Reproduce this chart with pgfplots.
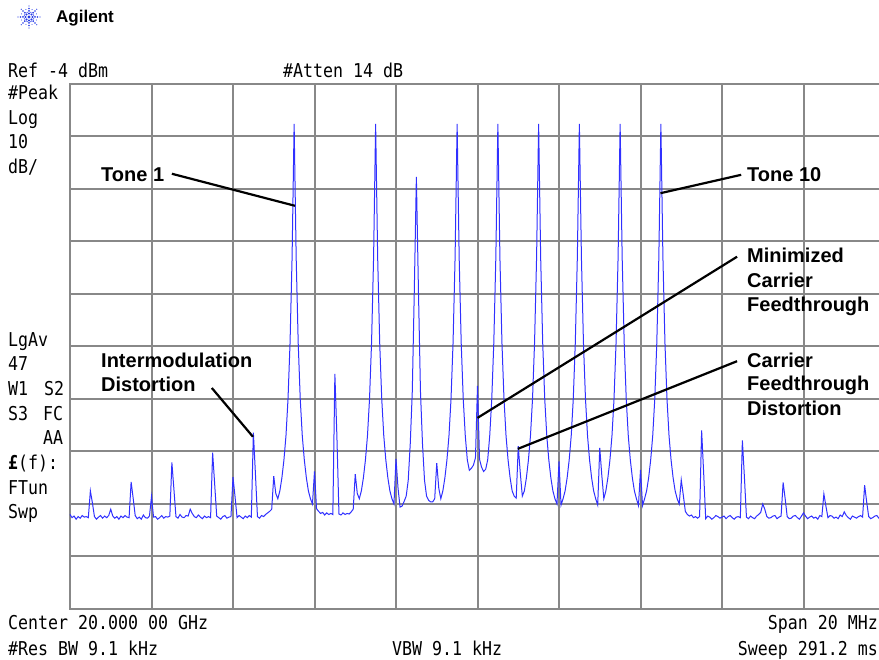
\documentclass[border=0pt]{standalone}
\usepackage{fontspec}
\setmainfont{Liberation Sans}
\newfontfamily\scr{DejaVu Sans Mono}
\usepackage{graphicx}
\usepackage{pgfplots}
\pgfplotsset{compat=1.18}
\definecolor{gridc}{RGB}{136,136,136}
\definecolor{tracec}{RGB}{48,48,255}
\definecolor{logoc}{RGB}{40,60,230}
\newcommand{\scrtext}[1]{\scalebox{1}[1.15]{\fontsize{16.6}{20}\selectfont\scr #1}}
\newcommand{\ann}[1]{{\fontsize{20}{24}\selectfont\bfseries #1}}

\pgfplotstableread{
x y
-10.00 -86.0
-9.95 -86.6
-9.90 -86.3
-9.85 -86.9
-9.80 -86.4
-9.75 -86.7
-9.70 -86.2
-9.65 -86.5
-9.60 -86.4
-9.55 -86.6
-9.50 -81.5
-9.45 -83.8
-9.40 -86.4
-9.35 -86.9
-9.30 -86.5
-9.25 -86.2
-9.20 -86.7
-9.15 -86.3
-9.10 -86.6
-9.05 -86.2
-9.00 -85.0
-8.95 -86.3
-8.90 -86.7
-8.85 -86.4
-8.80 -86.9
-8.75 -86.3
-8.70 -86.6
-8.65 -86.2
-8.60 -86.5
-8.55 -86.6
-8.50 -79.8
-8.45 -82.9
-8.40 -86.2
-8.35 -86.8
-8.30 -86.5
-8.25 -86.9
-8.20 -86.1
-8.15 -86.6
-8.10 -86.7
-8.05 -86.3
-8.00 -82.6
-7.95 -86.5
-7.90 -86.4
-7.85 -86.9
-7.80 -86.6
-7.75 -86.2
-7.70 -86.7
-7.65 -86.4
-7.60 -86.5
-7.55 -86.3
-7.50 -76.1
-7.45 -81.2
-7.40 -86.4
-7.35 -86.7
-7.30 -86.0
-7.25 -86.5
-7.20 -86.6
-7.15 -86.2
-7.10 -86.3
-7.05 -85.0
-7.00 -85.8
-6.95 -86.4
-6.90 -86.6
-6.85 -86.1
-6.80 -86.5
-6.75 -86.8
-6.70 -86.3
-6.65 -86.6
-6.60 -86.4
-6.55 -86.6
-6.50 -74.2
-6.45 -80.2
-6.40 -86.3
-6.35 -86.6
-6.30 -86.9
-6.25 -86.4
-6.20 -86.2
-6.15 -86.7
-6.10 -86.5
-6.05 -86.4
-6.00 -78.9
-5.95 -82.6
-5.90 -86.6
-5.85 -86.2
-5.80 -86.5
-5.75 -86.8
-5.70 -86.3
-5.65 -86.6
-5.60 -86.2
-5.55 -86.5
-5.50 -70.4
-5.45 -78.2
-5.40 -86.4
-5.35 -86.7
-5.30 -86.2
-5.25 -86.4
-5.20 -86.0
-5.15 -85.7
-5.10 -85.4
-5.05 -85.0
-5.00 -78.7
-4.95 -82.0
-4.90 -83.0
-4.85 -81.5
-4.80 -79.0
-4.75 -75.6
-4.70 -71.0
-4.65 -64.0
-4.60 -53.3
-4.55 -37.0
-4.50 -11.6
-4.45 -37.0
-4.40 -53.3
-4.35 -64.0
-4.30 -71.0
-4.25 -75.6
-4.20 -79.0
-4.15 -81.5
-4.10 -83.0
-4.05 -84.0
-4.00 -77.8
-3.95 -84.9
-3.90 -85.4
-3.85 -85.8
-3.80 -85.6
-3.75 -86.1
-3.70 -85.7
-3.65 -86.0
-3.60 -85.8
-3.55 -86.0
-3.50 -59.2
-3.45 -71.2
-3.40 -85.9
-3.35 -86.1
-3.30 -85.7
-3.25 -86.0
-3.20 -85.8
-3.15 -85.9
-3.10 -85.5
-3.05 -85.0
-3.00 -78.3
-2.95 -82.0
-2.90 -83.0
-2.85 -81.5
-2.80 -79.0
-2.75 -75.6
-2.70 -71.0
-2.65 -64.0
-2.60 -53.3
-2.55 -37.0
-2.50 -11.6
-2.45 -37.0
-2.40 -53.3
-2.35 -64.0
-2.30 -71.0
-2.25 -75.6
-2.20 -79.0
-2.15 -81.5
-2.10 -83.0
-2.05 -84.0
-2.00 -75.4
-1.95 -81.0
-1.90 -84.6
-1.85 -84.4
-1.80 -83.5
-1.75 -82.5
-1.70 -79.5
-1.65 -72.5
-1.60 -62.5
-1.55 -43.0
-1.50 -21.7
-1.45 -43.0
-1.40 -62.5
-1.35 -72.5
-1.30 -79.5
-1.25 -82.5
-1.20 -83.3
-1.15 -83.6
-1.10 -83.6
-1.05 -83.0
-1.00 -76.2
-0.95 -81.0
-0.90 -83.0
-0.85 -81.5
-0.80 -79.0
-0.75 -75.6
-0.70 -71.0
-0.65 -64.0
-0.60 -53.3
-0.55 -37.0
-0.50 -11.6
-0.45 -37.0
-0.40 -53.3
-0.35 -64.0
-0.30 -71.0
-0.25 -75.6
-0.20 -77.6
-0.15 -77.2
-0.10 -76.6
-0.05 -75.2
0.00 -61.5
0.05 -75.5
0.10 -77.0
0.15 -77.8
0.20 -77.4
0.25 -75.6
0.30 -71.0
0.35 -64.0
0.40 -53.3
0.45 -37.0
0.50 -11.6
0.55 -37.0
0.60 -53.3
0.65 -64.0
0.70 -71.0
0.75 -75.6
0.80 -79.0
0.85 -81.5
0.90 -82.5
0.95 -82.9
1.00 -73.0
1.05 -78.1
1.10 -82.5
1.15 -81.5
1.20 -79.0
1.25 -75.6
1.30 -71.0
1.35 -64.0
1.40 -53.3
1.45 -37.0
1.50 -11.6
1.55 -37.0
1.60 -53.3
1.65 -64.0
1.70 -71.0
1.75 -75.6
1.80 -79.0
1.85 -81.5
1.90 -83.0
1.95 -84.0
2.00 -75.9
2.05 -84.2
2.10 -83.0
2.15 -81.5
2.20 -79.0
2.25 -75.6
2.30 -71.0
2.35 -64.0
2.40 -53.3
2.45 -37.0
2.50 -11.6
2.55 -37.0
2.60 -53.3
2.65 -64.0
2.70 -71.0
2.75 -75.6
2.80 -79.0
2.85 -81.5
2.90 -83.0
2.95 -84.2
3.00 -73.3
3.05 -78.5
3.10 -83.0
3.15 -81.5
3.20 -79.0
3.25 -75.6
3.30 -71.0
3.35 -64.0
3.40 -53.3
3.45 -37.0
3.50 -11.6
3.55 -37.0
3.60 -53.3
3.65 -64.0
3.70 -71.0
3.75 -75.6
3.80 -79.0
3.85 -81.5
3.90 -83.0
3.95 -84.3
4.00 -77.5
4.05 -84.3
4.10 -83.0
4.15 -81.5
4.20 -79.0
4.25 -75.6
4.30 -71.0
4.35 -64.0
4.40 -53.3
4.45 -37.0
4.50 -11.6
4.55 -37.0
4.60 -53.3
4.65 -64.0
4.70 -71.0
4.75 -75.6
4.80 -79.0
4.85 -81.5
4.90 -83.0
4.95 -84.0
5.00 -79.4
5.05 -82.3
5.10 -85.4
5.15 -86.0
5.20 -86.3
5.25 -86.1
5.30 -86.6
5.35 -86.4
5.40 -86.7
5.45 -86.4
5.50 -70.0
5.55 -78.1
5.60 -86.8
5.65 -86.3
5.70 -86.5
5.75 -86.9
5.80 -86.6
5.85 -86.2
5.90 -86.4
5.95 -86.7
6.00 -86.5
6.05 -86.3
6.10 -86.8
6.15 -86.4
6.20 -86.2
6.25 -86.6
6.30 -86.9
6.35 -86.5
6.40 -86.4
6.45 -86.6
6.50 -71.9
6.55 -78.9
6.60 -86.5
6.65 -86.8
6.70 -86.3
6.75 -86.6
6.80 -86.8
6.85 -86.3
6.90 -86.0
6.95 -85.6
7.00 -84.0
7.05 -85.0
7.10 -86.4
7.15 -86.7
7.20 -86.6
7.25 -86.3
7.30 -86.2
7.35 -86.8
7.40 -86.5
7.45 -86.3
7.50 -79.9
7.55 -83.0
7.60 -86.4
7.65 -86.8
7.70 -86.7
7.75 -86.3
7.80 -86.2
7.85 -86.6
7.90 -86.9
7.95 -86.3
8.00 -85.7
8.05 -86.3
8.10 -86.8
8.15 -86.5
8.20 -86.3
8.25 -86.7
8.30 -86.5
8.35 -86.9
8.40 -86.2
8.45 -86.4
8.50 -82.1
8.55 -84.4
8.60 -86.6
8.65 -86.2
8.70 -86.3
8.75 -86.7
8.80 -86.5
8.85 -86.8
8.90 -86.1
8.95 -86.4
9.00 -85.5
9.05 -86.2
9.10 -86.6
9.15 -86.9
9.20 -86.3
9.25 -86.5
9.30 -86.7
9.35 -86.4
9.40 -86.2
9.45 -86.5
9.50 -80.4
9.55 -83.6
9.60 -86.4
9.65 -86.8
9.70 -86.6
9.75 -86.3
9.80 -86.2
9.85 -86.7
9.90 -86.5
9.95 -86.8
10.00 -86.3
}\tracedata

\begin{document}
\begin{tikzpicture}
\begin{axis}[
  at={(0pt,0pt)}, anchor=south west,
  width=815pt, height=525pt, scale only axis,
  xmin=-10, xmax=10, ymin=-104, ymax=-4,
  xtick={-10,-8,...,10}, ytick={-104,-94,...,-4},
  xticklabels={}, yticklabels={},
  major tick length=0pt,
  grid=major,
  major grid style={draw=gridc, line width=2pt},
  axis line style={draw=gridc, line width=2.2pt},
  clip=false,
]
\addplot[tracec, line width=1pt] table[x=x,y=y] {\tracedata};
% annotation leader lines
\draw[line width=2.2pt] (axis cs:-7.50,-21.1) -- (axis cs:-4.48,-27.2);
\draw[line width=2.2pt] (axis cs:6.47,-21.3) -- (axis cs:4.49,-24.8);
\draw[line width=2.2pt] (axis cs:6.37,-36.9) -- (axis cs:0.00,-67.6);
\draw[line width=2.2pt] (axis cs:6.37,-56.8) -- (axis cs:0.99,-73.5);
\draw[line width=2.2pt] (axis cs:-6.52,-61.9) -- (axis cs:-5.51,-71.2);
\end{axis}

\begin{scope}[x=1pt,y=-1pt,shift={(-70pt,609pt)}]
  % logo
  \fill[logoc] (29,17) circle (1.6pt);
  \foreach \a in {0,45,...,315}{
    \foreach \r/\s in {3.5/1.2,6/1.0,8.5/0.8,11/0.6}{
      \fill[logoc] (29,17) ++(\a:\r pt) circle (\s pt);
    }
  }
  \foreach \a in {22.5,67.5,...,337.5}{
    \foreach \r/\s in {5/0.7,8/0.55}{
      \fill[logoc] (29,17) ++(\a:\r pt) circle (\s pt);
    }
  }
  \node[anchor=base west, inner sep=0] at (56,23) {\fontsize{17}{20}\selectfont\bfseries Agilent};
  % screen texts
  \node[anchor=base west, inner sep=0] at (8,77.5) {\scrtext{Ref -4 dBm}};
  \node[anchor=base west, inner sep=0] at (283,77.5) {\scrtext{\#Atten 14 dB}};
  \node[anchor=base west, inner sep=0] at (8,100) {\scrtext{\#Peak}};
  \node[anchor=base west, inner sep=0] at (8,124.5) {\scrtext{Log}};
  \node[anchor=base west, inner sep=0] at (8,149) {\scrtext{10}};
  \node[anchor=base west, inner sep=0] at (8,173.5) {\scrtext{dB/}};
  \node[anchor=base west, inner sep=0] at (8,347) {\scrtext{LgAv}};
  \node[anchor=base west, inner sep=0] at (8,371) {\scrtext{47}};
  \node[anchor=base west, inner sep=0] at (8,396) {\scrtext{W1}};
  \node[anchor=base west, inner sep=0] at (44,396) {\scrtext{S2}};
  \node[anchor=base west, inner sep=0] at (8,421) {\scrtext{S3}};
  \node[anchor=base west, inner sep=0] at (43,421) {\scrtext{FC}};
  \node[anchor=base west, inner sep=0] at (43,445) {\scrtext{AA}};
  \node[anchor=base west, inner sep=0] at (8,470) {\scrtext{{\bfseries £}(f):}};
  \node[anchor=base west, inner sep=0] at (8,495) {\scrtext{FTun}};
  \node[anchor=base west, inner sep=0] at (8,519) {\scrtext{Swp}};
  \node[anchor=base west, inner sep=0] at (8,630) {\scrtext{Center 20.000 00 GHz}};
  \node[anchor=base west, inner sep=0] at (8,656) {\scrtext{\#Res BW 9.1 kHz}};
  \node[anchor=base west, inner sep=0] at (392,656) {\scrtext{VBW 9.1 kHz}};
  \node[anchor=base east, inner sep=0] at (878,630) {\scrtext{Span 20 MHz}};
  \node[anchor=base east, inner sep=0] at (878,656) {\scrtext{Sweep 291.2 ms}};
  % annotations
  \node[anchor=base west, inner sep=0] at (101,182) {\ann{Tone 1}};
  \node[anchor=base west, inner sep=0] at (747,182) {\ann{Tone 10}};
  \node[anchor=base west, inner sep=0] at (747,263) {\ann{Minimized}};
  \node[anchor=base west, inner sep=0] at (747,288) {\ann{Carrier}};
  \node[anchor=base west, inner sep=0] at (747,312) {\ann{Feedthrough}};
  \node[anchor=base west, inner sep=0] at (747,368) {\ann{Carrier}};
  \node[anchor=base west, inner sep=0] at (747,391) {\ann{Feedthrough}};
  \node[anchor=base west, inner sep=0] at (747,416) {\ann{Distortion}};
  \node[anchor=base west, inner sep=0] at (101,368) {\ann{Intermodulation}};
  \node[anchor=base west, inner sep=0] at (101,392) {\ann{Distortion}};
\end{scope}
\pgfresetboundingbox
\useasboundingbox (-70pt,-51pt) rectangle (809pt,609pt);
\end{tikzpicture}
\end{document}
